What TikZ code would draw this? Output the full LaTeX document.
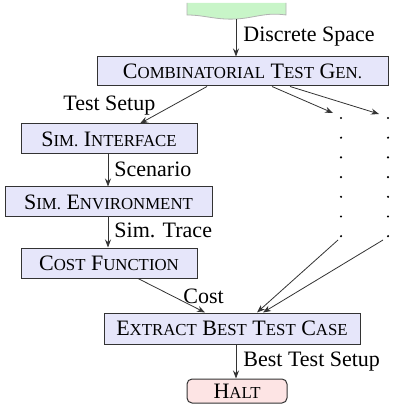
\documentclass[tikz,border=0pt]{standalone}
\usepackage{fontspec}
\setmainfont{Liberation Serif}
\usetikzlibrary{arrows.meta}
\newcommand\fsc[2]{#1{\fontsize{8.4pt}{10pt}\selectfont #2}}
\definecolor{boxfill}{HTML}{E6E6FA}
\definecolor{haltfill}{HTML}{FDE4E4}
\definecolor{tapefill}{HTML}{C8F5C8}
\definecolor{linec}{HTML}{333333}
\begin{document}
\begin{tikzpicture}[x=0.5pt,y=-0.5pt,
  font=\fontsize{11pt}{13pt}\selectfont,
  box/.style={draw=linec, line width=0.5pt, fill=boxfill, inner sep=0pt, minimum height=15pt},
  arr/.style={draw=linec, line width=0.4pt, -{Stealth[length=4pt,width=3pt]}},
  lbl/.style={anchor=base west, inner sep=0pt},
  dotc/.style={fill=black, circle, inner sep=0pt, minimum size=1.2pt}]
\useasboundingbox (0,0) rectangle (400,410);
% tape
\path[fill=tapefill, draw=gray!60, line width=0.4pt]
  (187,3) -- (187,15) .. controls (205,15) and (215,20) .. (236,19)
  .. controls (255,18) and (265,12) .. (286,15) -- (286,3);
\coordinate (tapeb) at (236,19);
% boxes
\node[box, minimum width=145.5pt, minimum height=14.5pt] (comb) at (242.5,71.5) {\fsc{C}{OMBINATORIAL} \fsc{T}{EST} \fsc{G}{EN.}};
\node[box, minimum width=88pt] (simint) at (109,139) {\fsc{S}{IM.} \fsc{I}{NTERFACE}};
\node[box, minimum width=103.5pt] (simenv) at (108.5,202) {\fsc{S}{IM.} \fsc{E}{NVIRONMENT}};
\node[box, minimum width=88pt] (cost) at (109,263) {\fsc{C}{OST} \fsc{F}{UNCTION}};
\node[box, minimum width=128pt, minimum height=15.5pt] (extract) at (232,328.5) {\fsc{E}{XTRACT} \fsc{B}{EST} \fsc{T}{EST} \fsc{C}{ASE}};
\node[box, fill=haltfill, rounded corners=2.5pt, minimum width=50pt, minimum height=12pt] (halt) at (237,391) {\fsc{H}{ALT}};
% dots
\foreach \k in {0,...,6} {
  \node[dotc] (da\k) at (341,118+19.7*\k) {};
  \node[dotc] (db\k) at (388,118+19.7*\k) {};
}
\coordinate (ina) at (333,113);
\coordinate (inb) at (379,114);
\coordinate (outa) at (338,240);
\coordinate (outb) at (383,240);
% connectors
\draw[arr] (tapeb) -- (tapeb |- comb.north);
\draw[arr] (comb.south -| 207,0) -- (simint.north -| 140,0);
\draw[arr] (comb.south -| 272,0) -- (ina);
\draw[arr] (comb.south -| 290,0) -- (inb);
\draw[arr] (simint.south -| 108,0) -- (simenv.north -| 108,0);
\draw[arr] (simenv.south -| 108,0) -- (cost.north -| 108,0);
\draw[arr] (cost.south -| 138,0) -- (extract.north -| 205,0);
\draw[arr] (outa) -- (extract.north -| 257,0);
\draw[arr] (outb) -- (extract.north -| 263,0);
\draw[arr] (extract.south -| 236,0) -- (halt.north -| 236,0);
% labels
\node[lbl] (l1) at (243,42) {Discrete Space};
\node[lbl] (l2) at (63,111) {Test Setup};
\node[lbl] (l3) at (114,177) {Scenario};
\node[lbl] (l4) at (114,238) {Sim. Trace};
\node[lbl] (l5) at (183,303) {Cost};
\node[lbl] (l6) at (243,366) {Best Test Setup};
\end{tikzpicture}
\end{document}
